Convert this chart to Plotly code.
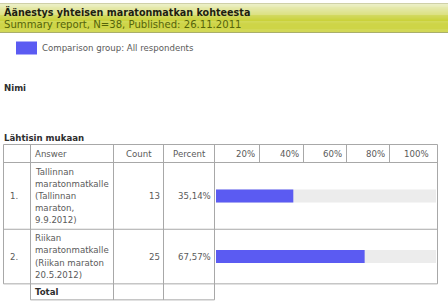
import plotly.graph_objects as go

W, H = 448, 303

# ---------------- data ----------------
title = "Äänestys yhteisen maratonmatkan kohteesta"
subtitle = "Summary report, N=38, Published: 26.11.2011"
legend_label = "Comparison group: All respondents"
section_1 = "Nimi"
section_2 = "Lähtisin mukaan"
header_cols = ["Answer", "Count", "Percent"]
tick_labels = ["20%", "40%", "60%", "80%", "100%"]
row_numbers = ["1.", "2."]
answer_lines = [
    ["Tallinnan", "maratonmatkalle", "(Tallinnan", "maraton,", "9.9.2012)"],
    ["Riikan", "maratonmatkalle", "(Riikan maraton", "20.5.2012)"],
]
counts = [13, 25]
percents = [35.14, 67.57]
total_label = "Total"

# ---------------- layout constants ----------------
FONT = "DejaVu Sans"
FS = 8.6
TXT = "#5a5a5a"
DARK = "#2e2e2e"
GRID = "#a8a8a8"
BAR = "#5b5bf2"
TRACK = "#ececec"

col_x = [3.5, 30.5, 113.5, 163.5, 214.5]
bar_col_right = 437.5
sub_x = [214.5, 259.5, 303.5, 346.5, 389.5, 437.5]
table_top = 144.5
header_h = 18
line_h = 12.15
row_pad = 6
total_h = 16
bar_thick = 13
track_x0, track_x1 = 216, 436

row_h = [len(a) * line_h + row_pad for a in answer_lines]
row_tops = []
y = table_top + header_h
for h in row_h:
    row_tops.append(y)
    y += h
rows_bottom = y
total_bottom = rows_bottom + total_h


def px(x):
    return x / W


def py(v):
    return 1 - v / H


shapes = []
annotations = []


def hline(x0, x1, yv, color=GRID):
    shapes.append(dict(type="line", xref="paper", yref="paper", x0=px(x0), x1=px(x1),
                       y0=py(yv), y1=py(yv), line=dict(color=color, width=1)))


def vline(xv, y0, y1, color=GRID):
    shapes.append(dict(type="line", xref="paper", yref="paper", x0=px(xv), x1=px(xv),
                       y0=py(y0), y1=py(y1), line=dict(color=color, width=1)))


def text(s, x, yv, anchor="left", size=FS, color=TXT, bold=False):
    if bold:
        s = "<b>" + s + "</b>"
    annotations.append(dict(text=s, x=px(x), y=py(yv), xref="paper", yref="paper",
                            xanchor=anchor, yanchor="middle", showarrow=False,
                            borderpad=0, font=dict(family=FONT, size=size, color=color)))


# ---- header band with vertical gradient ----
band_top, band_bot = 3.5, 32.5
top_rgb = (0xe6, 0xea, 0xb6)
bot_rgb = (0xc3, 0xcc, 0x1e)
n = 30
for i in range(n):
    t = min(1.0, i / (n * 0.7))
    c = tuple(int(round(a + (b - a) * t)) for a, b in zip(top_rgb, bot_rgb))
    y0 = band_top + (band_bot - band_top) * i / n
    y1 = band_top + (band_bot - band_top) * (i + 1) / n
    shapes.append(dict(type="rect", xref="paper", yref="paper", x0=0, x1=1,
                       y0=py(y1), y1=py(y0), line=dict(width=0),
                       fillcolor="rgb(%d,%d,%d)" % c, layer="below"))
hline(0, W, band_top, "#cfd0a8")
hline(0, W, band_bot, "#a9ae6a")
text(title, 3, 11.5, bold=True, color="#1e1e10", size=9.6)
text(subtitle, 3, 24.5, color="#55640a", size=10.1)

# ---- legend ----
shapes.append(dict(type="rect", xref="paper", yref="paper", x0=px(16), x1=px(37),
                   y0=py(54.5), y1=py(41.5), line=dict(width=0), fillcolor=BAR))
text(legend_label, 40.5, 48, color=TXT)

# ---- section headings ----
text(section_1, 3, 88, bold=True, color=DARK)
text(section_2, 3, 137.5, bold=True, color=DARK)

# ---- table grid ----
for xv in col_x:
    vline(xv, table_top, rows_bottom)
vline(bar_col_right, table_top, rows_bottom)
for xv in sub_x[1:-1]:
    vline(xv, table_top, table_top + header_h)
hline(col_x[0], bar_col_right, table_top)
hline(col_x[0], bar_col_right, table_top + header_h)
for t in row_tops[1:]:
    hline(col_x[0], bar_col_right, t)
hline(col_x[0], bar_col_right, rows_bottom)
# total row (first cell has no border)
for xv in col_x[1:]:
    vline(xv, rows_bottom, total_bottom)
hline(col_x[1], col_x[-1], total_bottom)

# ---- header texts ----
hy = table_top + header_h / 2
text(header_cols[0], col_x[1] + 3, hy)
text(header_cols[1], (col_x[2] + col_x[3]) / 2, hy, anchor="center")
text(header_cols[2], (col_x[3] + col_x[4]) / 2, hy, anchor="center")
for i, lab in enumerate(tick_labels):
    right = sub_x[i + 1] - (8 if i == len(tick_labels) - 1 else 3.5)
    text(lab, right, hy, anchor="right")

# ---- row texts ----
for r in range(len(answer_lines)):
    top = row_tops[r]
    mid = top + row_h[r] / 2
    text(row_numbers[r], 8.5, mid)
    for k, ln in enumerate(answer_lines[r]):
        text(ln, col_x[1] + 3, top + row_pad / 2 + line_h * (k + 0.5))
    text(str(counts[r]), col_x[3] - 2.5, mid, anchor="right")
    text(("%.2f" % percents[r]).replace(".", ",") + "%", col_x[4] - 2.5, mid, anchor="right")

text(total_label, col_x[1] + 3, rows_bottom + total_h / 2 + 0.5, bold=True, color=DARK)

# ---- bars through plotly axes ----
centers = [row_tops[r] - row_tops[0] + row_h[r] / 2 for r in range(len(row_h))]
span = rows_bottom - row_tops[0]

fig = go.Figure()
fig.add_trace(go.Bar(x=[100] * len(percents), y=centers, orientation="h",
                     width=bar_thick, marker=dict(color=TRACK, line=dict(width=0)),
                     hoverinfo="skip", showlegend=False))
fig.add_trace(go.Bar(x=percents, y=centers, orientation="h", width=bar_thick,
                     marker=dict(color=BAR, line=dict(width=0)), name=legend_label,
                     showlegend=False))

fig.update_layout(
    width=W, height=H,
    margin=dict(l=0, r=0, t=0, b=0),
    paper_bgcolor="white", plot_bgcolor="rgba(0,0,0,0)",
    barmode="overlay",
    xaxis=dict(domain=[px(track_x0), px(track_x1)], range=[0, 100], visible=False,
               fixedrange=True),
    yaxis=dict(domain=[py(rows_bottom), py(row_tops[0])], range=[span, 0], visible=False,
               fixedrange=True),
    shapes=shapes,
    annotations=annotations,
    showlegend=False,
)

fig.write_html("out.html")
